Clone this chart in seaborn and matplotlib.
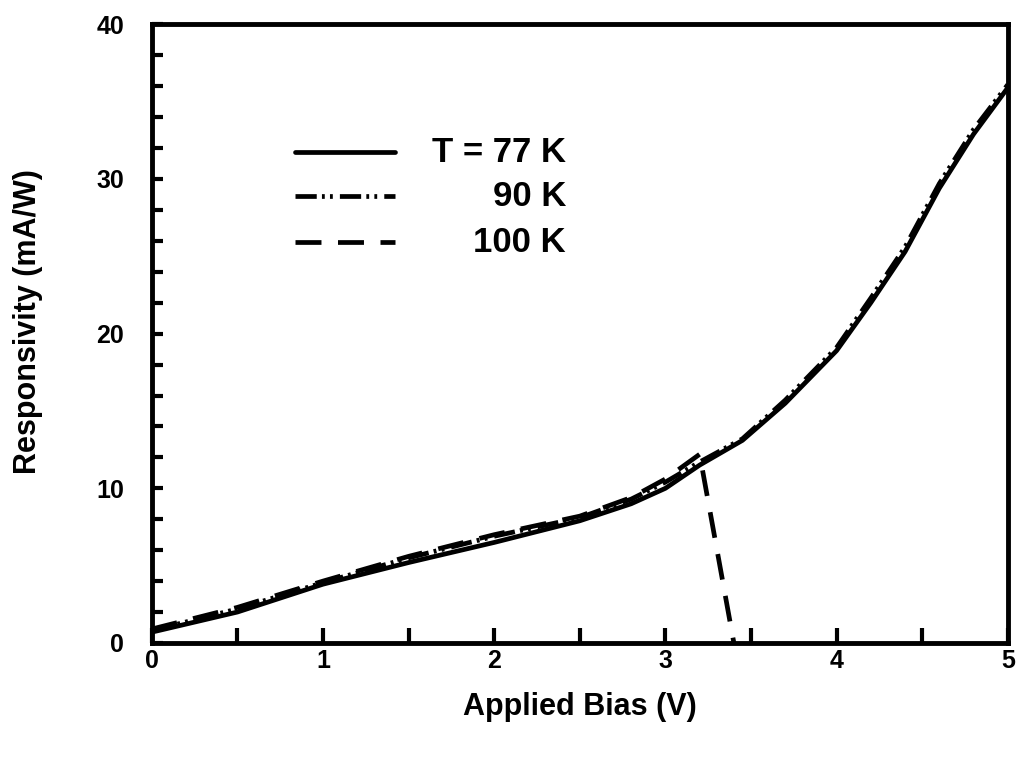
import numpy as np
import pandas as pd
import matplotlib
matplotlib.use("Agg")
import matplotlib.pyplot as plt
import seaborn as sns
from matplotlib.lines import Line2D
from matplotlib.ticker import MultipleLocator

# valores
bias_77 = [0, 0.5, 1.0, 1.5, 2.0, 2.5, 2.8, 3.0, 3.2, 3.45, 3.7, 4.0, 4.2, 4.4, 4.6, 4.8, 5.0]
resp_77 = [0.7, 2.0, 3.8, 5.2, 6.5, 7.9, 9.0, 10.0, 11.5, 13.1, 15.5, 18.9, 22.0, 25.3, 29.4, 32.9, 35.9]

bias_90 = [0, 0.5, 1.0, 1.5, 2.0, 2.5, 2.8, 3.0, 3.2, 3.45, 3.7, 4.0, 4.2, 4.4, 4.6, 4.8, 5.0]
resp_90 = [0.8, 2.2, 3.9, 5.5, 6.9, 8.1, 9.3, 10.4, 11.7, 13.2, 15.7, 19.1, 22.3, 25.6, 29.7, 33.2, 36.1]

bias_100 = [0, 0.5, 1.0, 1.5, 2.0, 2.5, 2.8, 3.0, 3.2, 3.4]
resp_100 = [0.9, 2.3, 4.0, 5.6, 7.0, 8.2, 9.4, 10.6, 12.2, 0.0]

rotulos = ["T = 77 K", "90 K", "100 K"]

sns.set_style("white")
plt.rcParams["font.family"] = ["Liberation Sans", "DejaVu Sans"]
plt.rcParams["font.weight"] = "bold"
plt.rcParams["text.color"] = "black"
plt.rcParams["xtick.color"] = "black"
plt.rcParams["ytick.color"] = "black"
plt.rcParams["axes.labelcolor"] = "black"
plt.rcParams["axes.labelweight"] = "bold"

fig = plt.figure(figsize=(10.19, 7.6), dpi=100)
ax = fig.add_axes([0.149, 0.154, 0.84, 0.814])

estilos = ["-", (0, (4.5, 1.1, 0.6, 1.1, 0.6, 1.5)), (0, (5.5, 3.5))]
series = [(bias_77, resp_77), (bias_90, resp_90), (bias_100, resp_100)]
for (x, y), ls in zip(series, estilos):
    df = pd.DataFrame({"x": x, "y": y})
    sns.lineplot(data=df, x="x", y="y", ax=ax, color="black", lw=3.4,
                 linestyle=ls, sort=False, estimator=None)

ax.set_xlim(0, 5)
ax.set_ylim(0, 40)
ax.xaxis.set_major_locator(MultipleLocator(1))
ax.xaxis.set_minor_locator(MultipleLocator(0.5))
ax.yaxis.set_major_locator(MultipleLocator(10))
ax.yaxis.set_minor_locator(MultipleLocator(2))
ax.tick_params(which="both", direction="in", top=False, right=False,
               bottom=True, left=True, width=3, labelsize=18)
ax.tick_params(axis="x", which="both", length=11, pad=4)
ax.tick_params(axis="y", which="both", length=8, pad=20)
for lbl in ax.get_xticklabels() + ax.get_yticklabels():
    lbl.set_fontweight("bold")
for s in ax.spines.values():
    s.set_linewidth(3.5)
    s.set_color("black")

ax.set_xlabel("Applied Bias (V)", fontsize=22, labelpad=14)
ax.set_ylabel("Responsivity (mA/W)", fontsize=22)
ax.yaxis.set_label_coords(-0.127, 0.519)

# legenda manual
ys = [0.793, 0.722, 0.648]
for yy, ls, txt in zip(ys, estilos, rotulos):
    ax.add_line(Line2D([0.167, 0.284], [yy, yy], transform=ax.transAxes,
                       color="black", lw=3.4, linestyle=ls))
    ax.text(0.484, yy, txt, transform=ax.transAxes, ha="right", va="center",
            fontsize=25)

fig.savefig("out.png", dpi=100)
